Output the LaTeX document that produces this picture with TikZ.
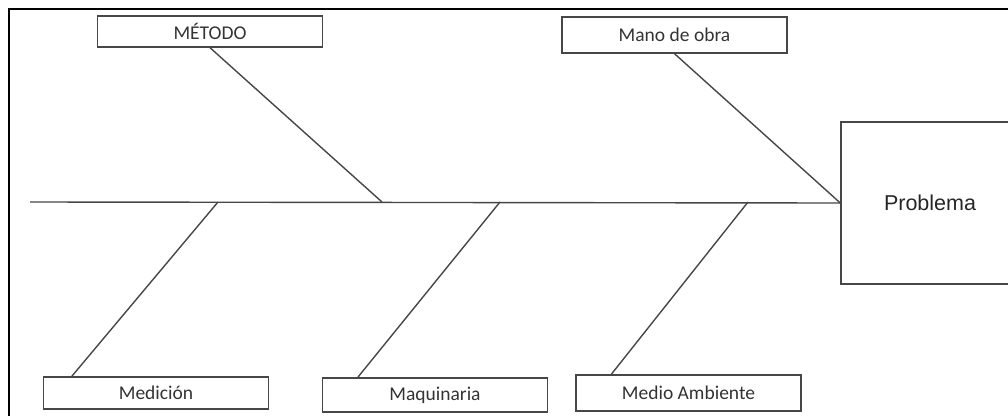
\documentclass[tikz,border=0pt]{standalone}
\usepackage{fontspec}
\setmainfont{Carlito}
\newfontfamily\arialfont{Liberation Sans}

\begin{document}
\begin{tikzpicture}[x=1pt,y=-1pt,line width=1.4pt,draw=black!72,
                    cause node/.style={rectangle,draw,minimum width=225pt,inner sep=0pt,font=\fontsize{19.5}{22}\selectfont,text=black!80},
                    effect node/.style={rectangle,draw,minimum width=178pt,minimum height=162pt,font=\arialfont\fontsize{21.5}{24}\selectfont,text=black!85}]
\useasboundingbox (0,0) rectangle (1008,415);
\begin{scope}
\clip (0,0) rectangle (1008,415);
\draw[black,line width=1.8pt] (9,9) rectangle (1040,440);

\node[cause node,minimum height=31pt] (metodo) at (210,31.5) {MÉTODO};
\node[cause node,minimum height=36pt] (manoobra) at (674.5,35) {Mano de obra};
\node[cause node,minimum height=32pt] (medicion) at (156,393) {Medición};
\node[cause node,minimum height=34pt] (maquinaria) at (435,395) {Maquinaria};
\node[cause node,minimum height=36pt] (medioamb) at (688.5,393) {Medio Ambiente};
\node[effect node] (problema) at (930,203) {Problema};

% espina central
\coordinate (cola) at (30,202);
\coordinate (m1) at (382,202);
\coordinate (s1) at (218,202);
\coordinate (s2) at (500,202);
\coordinate (s3) at (748,202);

\draw (cola) -- (problema.west);
\draw (metodo.south) -- (m1);
\draw (manoobra.south) -- (problema.west);
\draw ([xshift=29pt]medicion.north west) -- (s1);
\draw ([xshift=36pt]maquinaria.north west) -- (s2);
\draw ([xshift=36pt]medioamb.north west) -- (s3);
\end{scope}
\end{tikzpicture}
\end{document}
